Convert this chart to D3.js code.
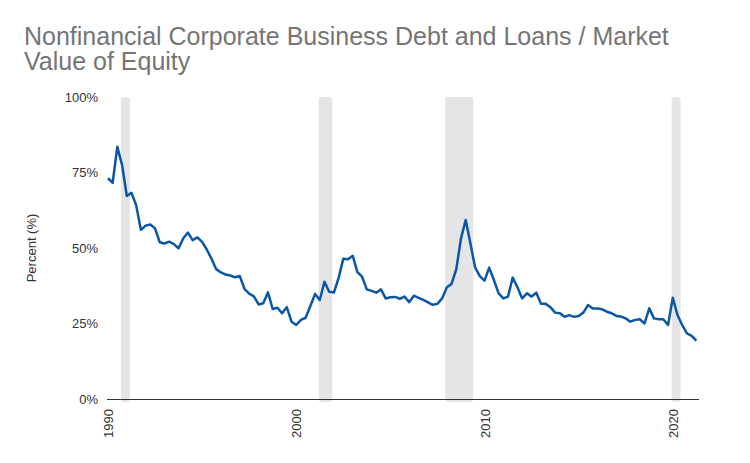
<!DOCTYPE html>
<html>
<head>
<meta charset="utf-8">
<script src="https://cdn.jsdelivr.net/npm/d3@7"></script>
<style>
  body { margin: 0; background: #fff; }
  text { font-family: "Liberation Sans", Arial, sans-serif; }
</style>
</head>
<body>
<div id="chart"></div>
<script>
// quarterly series, starting 1990 Q1 (percent)
var startYear = 1990;
var debtToEquity = [
  73.1, 71.6, 83.5, 77.5, 67.2, 68.3, 64.2, 56.0, 57.4, 57.8,
  56.5, 51.9, 51.5, 52.1, 51.3, 49.9, 53.2, 55.1, 52.6, 53.5,
  52.0, 49.5, 46.5, 43.0, 41.9, 41.2, 40.9, 40.3, 40.7, 36.5,
  34.9, 34.0, 31.3, 31.7, 35.3, 29.8, 30.2, 28.4, 30.4, 25.6,
  24.5, 26.2, 26.9, 30.8, 34.8, 32.8, 38.8, 35.5, 35.3, 40.0,
  46.4, 46.3, 47.4, 42.0, 40.5, 36.3, 35.8, 35.2, 36.3, 33.3,
  33.7, 33.8, 33.2, 33.9, 32.1, 34.2, 33.5, 32.8, 32.0, 31.2,
  31.5, 33.3, 37.0, 38.1, 42.9, 53.2, 59.3, 51.6, 43.6, 40.7,
  39.2, 43.5, 39.4, 35.0, 33.3, 33.9, 40.2, 37.0, 33.3, 35.0,
  33.9, 35.2, 31.5, 31.5, 30.4, 28.6, 28.4, 27.2, 27.8, 27.2,
  27.5, 28.6, 31.1, 30.0, 30.0, 29.7, 28.9, 28.4, 27.5, 27.3,
  26.7, 25.6, 26.2, 26.4, 25.0, 30.0, 26.7, 26.4, 26.4, 24.5,
  33.5, 27.8, 24.5, 21.7, 20.9, 19.3
];

// recession shading (decimal years)
var recessionStart = [1990.69, 2001.19, 2007.91, 2019.94];
var recessionEnd   = [1991.17, 2001.91, 2009.40, 2020.41];

var yTicks = [0, 0.25, 0.5, 0.75, 1];
var xTickYears = [1990, 2000, 2010, 2020];

var svgWidth = 750;
var svgHeight = 463;

var margin = { top: 97, right: 51, bottom: 64, left: 108 };
var width = svgWidth - margin.left - margin.right;
var height = svgHeight - margin.top - margin.bottom;

function yearToDate(y) {
  var yr = Math.floor(y);
  var start = new Date(yr, 0, 1), end = new Date(yr + 1, 0, 1);
  return new Date(start.getTime() + (y - yr) * (end - start));
}

var data = debtToEquity.map(function(v, i) {
  return { date: new Date(startYear + Math.floor(i / 4), (i % 4) * 3, 1), value: v / 100 };
});

var svg = d3.select("#chart")
  .append("svg")
  .attr("width", svgWidth)
  .attr("height", svgHeight);

// title
var title = svg.append("text")
  .attr("x", 24)
  .attr("y", 45)
  .attr("fill", "#757575")
  .style("font-size", "25px");
title.append("tspan").attr("x", 24).text("Nonfinancial Corporate Business Debt and Loans / Market");
title.append("tspan").attr("x", 24).attr("dy", 25).text("Value of Equity");

var chartGroup = svg.append("g")
  .attr("transform", `translate(${margin.left}, ${margin.top})`);

var xScale = d3.scaleTime()
  .domain([new Date(1990, 0, 1), yearToDate(2021.39)])
  .range([0, width]);

var yScale = d3.scaleLinear()
  .domain([0, 1])
  .range([height, 0]);

// recession bars
chartGroup.selectAll("rect.recession")
  .data(recessionStart)
  .enter()
  .append("rect")
  .attr("class", "recession")
  .attr("x", d => xScale(yearToDate(d)))
  .attr("width", (d, i) => xScale(yearToDate(recessionEnd[i])) - xScale(yearToDate(d)))
  .attr("y", yScale(1))
  .attr("height", yScale(0) - yScale(1) + 3)
  .attr("rx", 3)
  .attr("fill", "#e5e5e5");

// y axis
var leftAxis = d3.axisLeft(yScale)
  .tickValues(yTicks)
  .tickFormat(d3.format(".0%"))
  .tickSize(0)
  .tickPadding(10);

var yAxis = chartGroup.append("g").call(leftAxis);
yAxis.select(".domain").remove();
yAxis.selectAll("text")
  .attr("fill", "#333")
  .style("font-size", "13px")
  .style("font-family", "'Liberation Sans', Arial, sans-serif");

// x axis
var bottomAxis = d3.axisBottom(xScale)
  .tickValues(xTickYears.map(y => new Date(y, 0, 1)))
  .tickFormat(d3.timeFormat("%Y"))
  .tickSize(0);

var xAxis = chartGroup.append("g")
  .attr("transform", `translate(0, ${height})`)
  .call(bottomAxis);
xAxis.select(".domain")
  .attr("stroke", "#333")
  .attr("d", `M-1,0.5H${width}`);
xAxis.selectAll("text")
  .attr("transform", "rotate(-90)")
  .attr("text-anchor", "end")
  .attr("x", -10)
  .attr("y", 0)
  .attr("dy", "0.35em")
  .attr("fill", "#333")
  .style("font-size", "13px")
  .style("font-family", "'Liberation Sans', Arial, sans-serif");

// y axis label
chartGroup.append("text")
  .attr("transform", "rotate(-90)")
  .attr("x", -height / 2)
  .attr("y", -72)
  .attr("text-anchor", "middle")
  .attr("fill", "#333")
  .style("font-size", "13px")
  .text("Percent (%)");

// line
var line = d3.line()
  .x(d => xScale(d.date))
  .y(d => yScale(d.value));

chartGroup.append("path")
  .datum(data)
  .attr("fill", "none")
  .attr("stroke", "#0b56a6")
  .attr("stroke-width", 2.5)
  .attr("stroke-linejoin", "round")
  .attr("d", line);
</script>
</body>
</html>
